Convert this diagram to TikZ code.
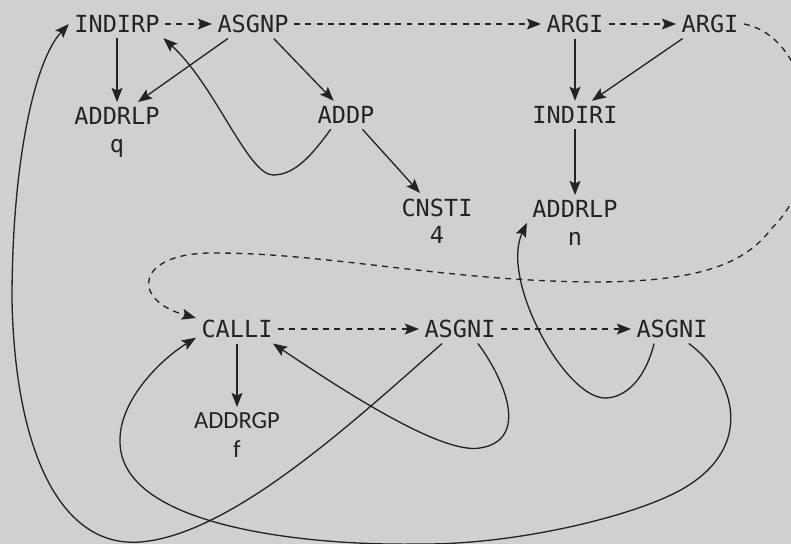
\documentclass[tikz,border=0pt]{standalone}
\usepackage{fontspec}
\setmonofont{DejaVu Sans Mono}
\newfontfamily\gpfont{Carlito}
\usepackage{xcolor}
\usepackage{tikz}
\usetikzlibrary{arrows.meta}

\definecolor{paper}{RGB}{207,208,210}
\definecolor{ink}{RGB}{35,35,38}

\begin{document}
\begin{tikzpicture}[
  x=0.02cm, y=-0.02cm,
  font=\ttfamily\fontsize{13.4}{15.6}\selectfont,
  >={Stealth[length=8pt,width=6.2pt,inset=1.5pt]},
  op/.style={inner sep=3pt, text=ink},
  optwo/.style={op, align=center, anchor=north},
  kid/.style={->, draw=ink, line width=0.75pt},
  seq/.style={->, draw=ink, line width=0.75pt, dash pattern=on 3.4pt off 3pt},
]
\useasboundingbox (0,0) rectangle (791,544);
\fill[paper] (0,0) rectangle (791,544);

% Operators, top row
\node[op] (indirp) at (117,24) {INDIRP};
\node[op] (asgnp) at (253,24) {ASGNP};
\node[op] (argia) at (575,24) {ARGI};
\node[op] (argib) at (710,24) {ARGI};

% Operands
\node[optwo] (addrlpq) at (117,102) {ADDRLP\\q};
\node[op] (addp) at (346,115) {ADDP};
\node[op] (indiri) at (575,115) {INDIRI};
\node[optwo] (cnsti) at (437,193) {CNSTI\\4};
\node[optwo] (addrlpn) at (575,195) {ADDRLP\\n};

% Bottom row
\node[op] (calli) at (237,329) {CALLI};
\node[op] (asgnia) at (460,329) {ASGNI};
\node[op] (asgnib) at (672,329) {ASGNI};
\node[optwo, font=\gpfont\fontsize{14}{16.5}\selectfont] (addrgp) at (237,407) {ADDRGP\\f};

% Kids
\draw[kid] (indirp.south) -- (addrlpq.north);
\draw[kid] (asgnp.210) -- ([xshift=0.42cm]addrlpq.north);
\draw[kid] (asgnp.-35) -- (addp.131);
\draw[kid] (addp.-41) -- ([xshift=-0.34cm]cnsti.north);
\draw[kid] (argia.south) -- (indiri.north);
\draw[kid] (argib.208) -- (indiri.40);
\draw[kid] (indiri.south) -- (addrlpn.north);
\draw[kid] (calli.south) -- (addrgp.north);

% Shared kids (curved)
\draw[kid] (addp.223) .. controls (312,155) and (295,175) .. (273,175)
  .. controls (248,175) and (215,85) .. (indirp.-17);
\draw[kid] (asgnia.-39) .. controls (505,380) and (530,440) .. (480,448)
  .. controls (440,455) and (335,385) .. (calli.-22);
\draw[kid] (asgnia.219) .. controls (350,425) and (230,535) .. (140,542)
  .. controls (60,548) and (15,450) .. (12,300)
  .. controls (12,160) and (35,60) .. (indirp.west);
\draw[kid] (asgnib.-41) .. controls (732,375) and (755,440) .. (692,483)
  .. controls (650,513) and (520,545) .. (420,544)
  .. controls (320,546) and (118,530) .. (120,440)
  .. controls (120,400) and (160,360) .. (calli.192);
\draw[kid] (asgnib.219) .. controls (645,380) and (625,398) .. (605,398)
  .. controls (565,398) and (500,280) .. (addrlpn.west);

% Execution order (dashed)
\draw[seq] (indirp.east) -- (asgnp.west);
\draw[seq] (asgnp.east) -- (argia.west);
\draw[seq] (argia.east) -- (argib.west);
\draw[seq] (argib.east) .. controls (815,38) and (832,170) .. (772,228)
  .. controls (745,264) and (700,281) .. (600,282)
  .. controls (450,282) and (330,253) .. (215,253)
  .. controls (135,252) and (130,300) .. (calli.165);
\draw[seq] (calli.east) -- (asgnia.west);
\draw[seq] (asgnia.east) -- (asgnib.west);

\end{tikzpicture}
\end{document}
